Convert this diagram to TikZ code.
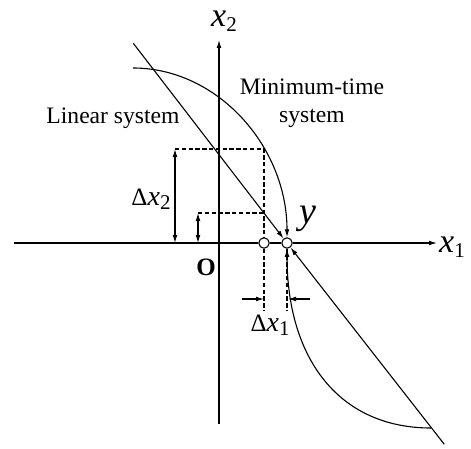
\documentclass[tikz,border=0pt]{standalone}
\usepackage{fontspec}
\setmainfont{Liberation Serif}
\usetikzlibrary{arrows.meta}
\newcommand\bigvar[3]{{\fontsize{#3}{#3}\selectfont\textit{#1}}\raisebox{-0.22em}{\fontsize{10.5}{10.5}\selectfont #2}}
\begin{document}
\begin{tikzpicture}[x=0.5pt,y=-0.5pt, line width=0.55pt,
  arr/.style={-{Latex[length=4pt,width=2.4pt]}},
  darr/.style={{Latex[length=4pt,width=2.4pt]}-{Latex[length=4pt,width=2.4pt]}},
  dsh/.style={dash pattern=on 2.2pt off 1.2pt, line width=0.7pt},
  pt/.style={circle, draw, fill=white, minimum size=5.2pt, inner sep=0pt, line width=0.55pt},
  lbl/.style={inner sep=0pt, font=\fontsize{11.8}{14}\selectfont, align=center},
]
\useasboundingbox (0,0) rectangle (471,449);
% key points
\node[pt] (p1) at (264,243) {};
\node[pt] (p2) at (287,243) {};
\coordinate (xl) at (14,243);
\coordinate (xr) at (437,243);
\coordinate (yb) at (219,424);
\coordinate (yt) at (219,40);
% axes
\draw (xl) -- (p1);
\draw (p1) -- (p2);
\draw[arr] (p2) -- (xr);
\draw[arr] (yb) -- (yt);
% linear system line
\coordinate (L1) at (133.3,43.3);
\coordinate (L2) at (444.3,444.3);
\draw[arr] (L1) -- (p2);
\draw[arr] (L2) -- (p2);
% minimum-time curves
\coordinate (C1) at (133,68);
\coordinate (C2) at (431,428);
\draw[arr] (C1) .. controls (218,68) and (287,147) .. (p2.north);
\draw[arr] (C2) .. controls (340,428) and (287,360) .. (p2.south);
% dashed construction lines
\coordinate (h2a) at (175,149);
\coordinate (h2b) at (264,149);
\coordinate (h1a) at (198,213);
\coordinate (h1b) at (264,213);
\coordinate (d1) at (264,310);
\coordinate (d2) at (287,310);
\draw[dsh] (h2a) -- (h2b) -- (p1.north);
\draw[dsh] (h1a) -- (h1b);
\draw[dsh] (p1.south) -- (d1);
\draw[dsh] (p2.south) -- (d2);
% dimension arrows
\coordinate (a2b) at (175,243);
\coordinate (a1b) at (198,243);
\draw[darr] (h2a) -- (a2b);
\draw[darr] (h1a) -- (a1b);
\coordinate (e1) at (242,299);
\coordinate (e1t) at (264,299);
\coordinate (e2) at (310,299);
\coordinate (e2t) at (288,299);
\draw[arr] (e1) -- (e1t);
\draw[arr] (e2) -- (e2t);
% labels
\node[inner sep=0pt] (lx2) at (224,21) {\bigvar{x}{2}{17}};
\node[inner sep=0pt] (lx1) at (452,247) {\bigvar{x}{1}{17}};
\node[inner sep=0pt] (ly) at (308,219) {\fontsize{19}{19}\selectfont\textit{y}};
\node[inner sep=0pt] (lo) at (206,267) {\fontsize{12.5}{13}\selectfont\textbf{O}};
\node[inner sep=0pt] (ldx2) at (151,199) {{\fontsize{12.5}{12.5}\selectfont Δ}\bigvar{x}{2}{14}};
\node[inner sep=0pt] (ldx1) at (270,325) {{\fontsize{12.5}{12.5}\selectfont Δ}\bigvar{x}{1}{14}};
\node[lbl] (lin) at (113,118) {Linear system};
\node[lbl] (lmin) at (312,103) {Minimum-time\\system};
\end{tikzpicture}
\end{document}
